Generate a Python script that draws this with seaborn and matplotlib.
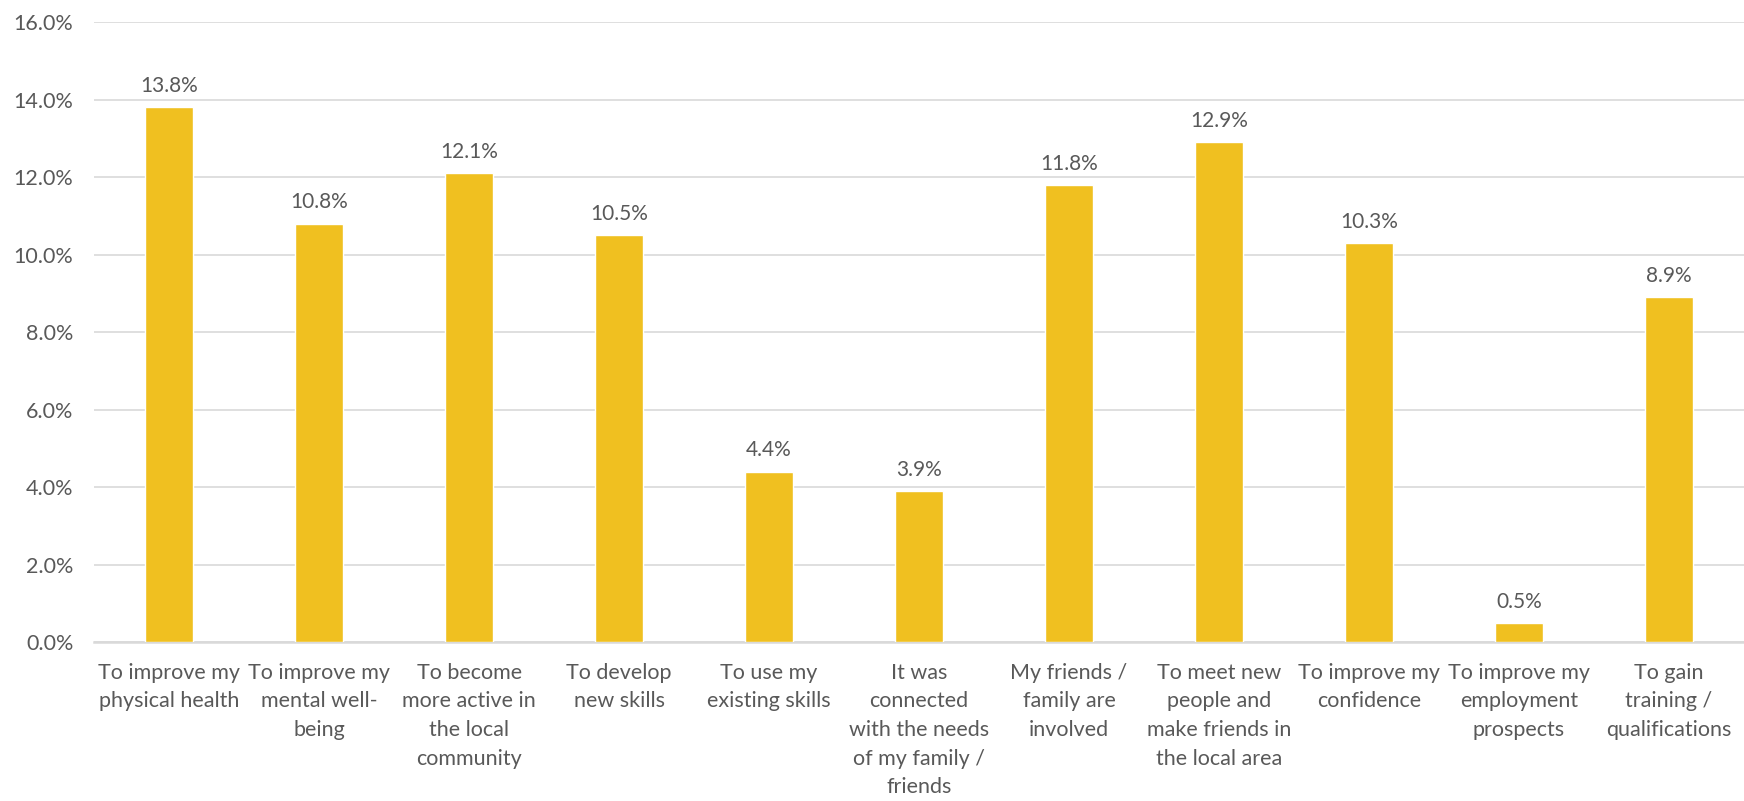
import pandas as pd
import matplotlib.pyplot as plt
import seaborn as sns
from matplotlib.ticker import PercentFormatter

#---------------------------------------------------
categories=['To improve my\nphysical health',
	'To improve my\nmental well-\nbeing',
	'To become\nmore active in\nthe local\ncommunity',
	'To develop\nnew skills',
	'To use my\nexisting skills',
	'It was\nconnected\nwith the needs\nof my family /\nfriends',
	'My friends /\nfamily are\ninvolved',
	'To meet new\npeople and\nmake friends in\nthe local area',
	'To improve my\nconfidence',
	'To improve my\nemployment\nprospects',
	'To gain\ntraining /\nqualifications']
values=[13.8, 10.8, 12.1, 10.5, 4.4, 3.9, 11.8, 12.9, 10.3, 0.5, 8.9]
yticks=[0, 2, 4, 6, 8, 10, 12, 14, 16]

bar_col='#F0C020'
txt_col='#595959'
grid_col='#D9D9D9'

#---------------------------------------------------
sns.set_style('white')
plt.rcParams['font.family']=['Lato', 'DejaVu Sans']

df=pd.DataFrame({'cat': categories, 'val': values})

fig=plt.figure(figsize=(17.44, 8.01), dpi=100)
ax=fig.add_axes([0.054, 0.1985, 0.946, 0.774])
sns.barplot(data=df, x='cat', y='val', color=bar_col, width=0.32, saturation=1, ax=ax, zorder=3)

#labels
for i, v in enumerate(values):
	ax.annotate(f'{v:.1f}%', (i, v), xytext=(0, 8), textcoords='offset points',
		ha='center', va='bottom', fontsize=15, color=txt_col)

#adjust
ax.set_ylim(0, 16)
ax.set_xlim(-0.5, len(categories)-0.5)
ax.set_yticks(yticks)
ax.yaxis.set_major_formatter(PercentFormatter(decimals=1))
ax.grid(axis='y', color=grid_col, linewidth=1.2, zorder=0)
ax.set_xlabel('')
ax.set_ylabel('')
for s in ['top', 'right', 'left']:
	ax.spines[s].set_visible(False)
ax.spines['bottom'].set_color(grid_col)
ax.spines['bottom'].set_linewidth(1.8)
ax.tick_params(axis='both', length=0, labelsize=15.5, colors=txt_col)
ax.tick_params(axis='y', pad=15)
ax.tick_params(axis='x', pad=15)
for lbl in ax.get_xticklabels():
	lbl.set_linespacing(1.54)
	lbl.set_va('top')

plt.savefig('out.png', dpi=100)
plt.close()
